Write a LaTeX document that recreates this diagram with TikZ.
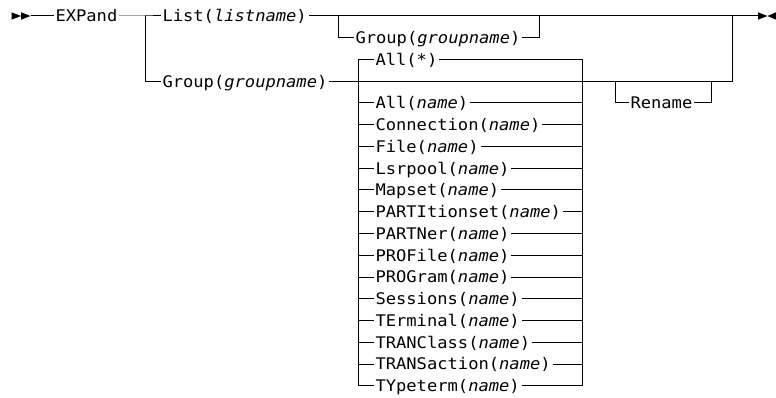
\documentclass[tikz,border=0pt]{standalone}
\usepackage{fontspec}
\newfontfamily\rrfont{DejaVu Sans Mono}[FakeStretch=1.07, ItalicFont={DejaVu Sans Mono Oblique}]
\begin{document}
\begin{tikzpicture}[x=1pt, y=-1pt, line width=1pt,
  lbl/.style={font=\rrfont\fontsize{16}{19}\selectfont, inner xsep=1.5pt, inner ysep=0pt,
              text height=11.6pt, text depth=0pt, anchor=west},
  tip/.style={fill=black, draw=none}]
\useasboundingbox (0,0) rectangle (776,398);
% rows
\def\dy{21.75}
% arrows at start
\fill[tip] (11.5,12.3) -- (21,16) -- (11.5,19.7) -- cycle;
\fill[tip] (21,12.3) -- (30.5,16) -- (21,19.7) -- cycle;
\coordinate (s) at (30.5,16);
% end arrows
\fill[tip] (758,12.3) -- (767.5,16) -- (758,19.7) -- cycle;
\fill[tip] (776,12.3) -- (767.5,16) -- (776,19.7) -- cycle;
\coordinate (e) at (758,16);
% nodes
\node[lbl] (expand) at (53.5,16) {EXPand};
\node[lbl] (list) at (160.5,16) {List(\textit{listname})};
\node[lbl] (grpopt) at (353.5,37.75) {Group(\textit{groupname})};
\node[lbl] (grp) at (160.5,81.25) {Group(\textit{groupname})};
\node[lbl] (ren) at (628.5,103) {Rename};
% junctions
\coordinate (b1) at (145,16);
\coordinate (b1d) at (145,81.25);
\coordinate (o1) at (338,16);
\coordinate (o2) at (539,16);
\coordinate (r1) at (732,81.25);
\coordinate (r2) at (732,16);
\coordinate (lt) at (358,59.5);
\coordinate (lb) at (358,385.75);
\coordinate (rt) at (582,59.5);
\coordinate (rb) at (582,385.75);
\coordinate (rn1) at (615,81.25);
\coordinate (rn2) at (711,81.25);
% main line
\draw (s) -- (expand.west);
\draw (expand.east) -- (b1) -- (list.west);
\draw (list.east) -- (e);
\draw (b1) -- (b1d) -- (grp.west);
\draw (o1) |- (grpopt.west);
\draw (grpopt.east) -| (o2);
\draw (grp.east) -- (r1) -- (r2);
\draw (rn1) |- (ren.west);
\draw (ren.east) -| (rn2);
% list of choices
\draw (lt) -- (lb);
\draw (rt) -- (rb);
\foreach \t [count=\k from 0] in {All(*),
  All(\textit{name}), Connection(\textit{name}), File(\textit{name}),
  Lsrpool(\textit{name}), Mapset(\textit{name}), PARTItionset(\textit{name}),
  PARTNer(\textit{name}), PROFile(\textit{name}), PROGram(\textit{name}),
  Sessions(\textit{name}), TErminal(\textit{name}), TRANClass(\textit{name}),
  TRANSaction(\textit{name}), TYpeterm(\textit{name})}{
  \pgfmathsetmacro{\yy}{\k==0 ? 59.5 : 59.5 + (\k+1)*\dy}
  \node[lbl] (it\k) at (373.5,\yy) {\t};
  \draw (lt |- it\k.west) -- (it\k.west);
  \draw (it\k.east) -- (rt |- it\k.east);
}
\end{tikzpicture}
\end{document}
